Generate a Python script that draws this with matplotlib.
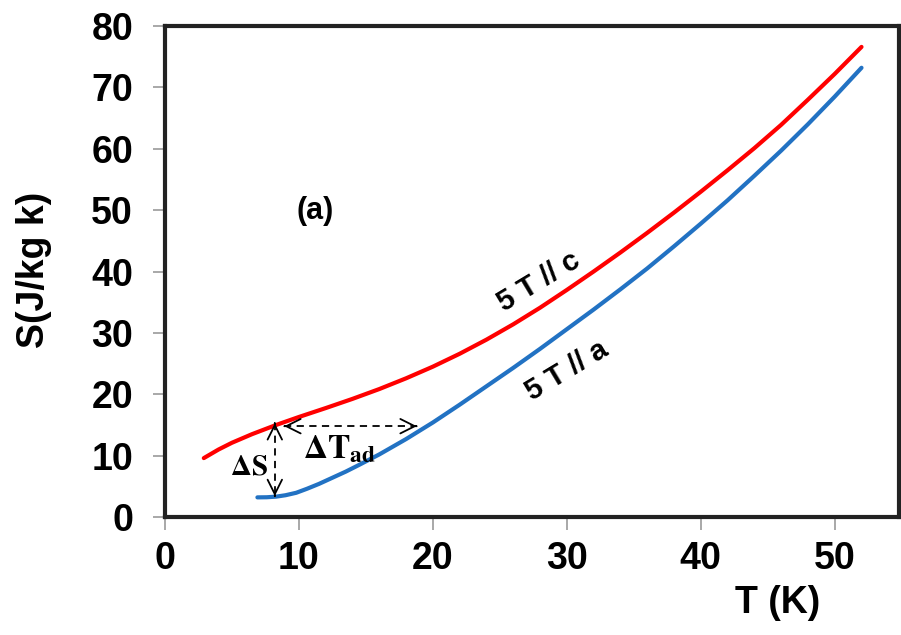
import matplotlib
matplotlib.use("Agg")
import matplotlib.pyplot as plt

plt.rcParams["font.family"] = ["Liberation Sans", "DejaVu Sans"]
plt.rcParams["font.weight"] = "bold"
plt.rcParams["mathtext.fontset"] = "stix"

# entropy curves
t_c = [2.9, 4, 5, 6.5, 8.3, 10, 12, 14, 16, 18, 20, 22, 24, 26, 28, 30, 32,
       34, 36, 38, 40, 42, 44, 46, 48, 50, 52]
s_c = [9.6, 11.0, 12.1, 13.5, 15.0, 16.3, 17.75, 19.25, 20.85, 22.6, 24.5,
       26.6, 28.9, 31.4, 34.1, 37.0, 40.0, 43.1, 46.3, 49.6, 53.0, 56.5, 60.1,
       63.9, 68.0, 72.2, 76.6]

t_a = [6.9, 7.6, 8.3, 9.0, 9.8, 10.6, 11.5, 12.5, 13.5, 14.5, 16, 18, 20, 22,
       24, 26, 28, 30, 32, 34, 36, 38, 40, 42, 44, 46, 48, 50, 52]
s_a = [3.2, 3.22, 3.32, 3.55, 3.95, 4.6, 5.4, 6.4, 7.4, 8.5, 10.2, 12.7, 15.4,
       18.3, 21.3, 24.3, 27.4, 30.6, 33.8, 37.1, 40.5, 44.1, 47.8, 51.6, 55.6,
       59.7, 64.0, 68.5, 73.2]

x_ticks = [0, 10, 20, 30, 40, 50]
y_ticks = [0, 10, 20, 30, 40, 50, 60, 70, 80]

# delta S / delta T_ad markers
ds_t, ds_top, ds_bot = 8.2, 15.3, 3.4
dt_s, dt_left, dt_right = 14.8, 8.9, 18.8

fig = plt.figure(figsize=(9.01, 6.35), dpi=100)
ax = fig.add_axes([0.1831, 0.1858, 0.8147, 0.7732])

ax.plot(t_c, s_c, color="#ff0000", lw=3, solid_capstyle="round",
        solid_joinstyle="round")
ax.plot(t_a, s_a, color="#2272c3", lw=3, solid_capstyle="round",
        solid_joinstyle="round")

ax.set_xlim(0, 54.8)
ax.set_ylim(0, 80)
ax.set_xticks(x_ticks)
ax.set_yticks(y_ticks)
ax.tick_params(axis="both", direction="out", length=9, width=1.2,
               color="#999999", labelsize=27)
ax.tick_params(axis="x", pad=8)
ax.tick_params(axis="y", pad=14)
for sp in ax.spines.values():
    sp.set_linewidth(3)
    sp.set_color("#222222")

ax.set_xlabel("T (K)", fontsize=27, fontweight="bold")
ax.xaxis.set_label_coords(0.834, -0.175)
ax.xaxis.label.set_va("center")
ax.set_ylabel("S(J/kg k)", fontsize=27, fontweight="bold")
ax.yaxis.set_label_coords(-0.178, 0.504)
ax.yaxis.label.set_va("center")

# dashed double arrows
dash = dict(color="black", lw=1.3, ls=(0, (4, 3)))
ax.plot([ds_t, ds_t], [ds_top, ds_bot], **dash)
ax.plot([dt_left, dt_right], [dt_s, dt_s], **dash)
head = dict(arrowstyle="->", color="black", lw=1.3, mutation_scale=26,
            shrinkA=0, shrinkB=0)
ax.annotate("", xy=(ds_t, ds_top), xytext=(ds_t, ds_top - 0.05), arrowprops=head)
ax.annotate("", xy=(ds_t, ds_bot), xytext=(ds_t, ds_bot + 0.05), arrowprops=head)
ax.annotate("", xy=(dt_left, dt_s), xytext=(dt_left + 0.05, dt_s), arrowprops=head)
ax.annotate("", xy=(dt_right, dt_s), xytext=(dt_right - 0.05, dt_s), arrowprops=head)

ax.text(6.3, 8.3, r"$\Delta\mathrm{S}$", fontsize=21, ha="center", va="center")
ax.text(10.3, 11.0, r"$\Delta\mathrm{T}_{\mathbf{ad}}$", fontsize=24,
        ha="left", va="center")

ax.text(11.2, 49.8, "(a)", fontsize=22, fontweight="bold", ha="center", va="center")
ax.text(27.9, 38.4, "5 T // c", fontsize=21, fontweight="bold", rotation=31,
        ha="center", va="center", rotation_mode="anchor")
ax.text(30.0, 23.8, "5 T // a", fontsize=21, fontweight="bold", rotation=31,
        ha="center", va="center", rotation_mode="anchor")

fig.savefig("out.png", dpi=100)
